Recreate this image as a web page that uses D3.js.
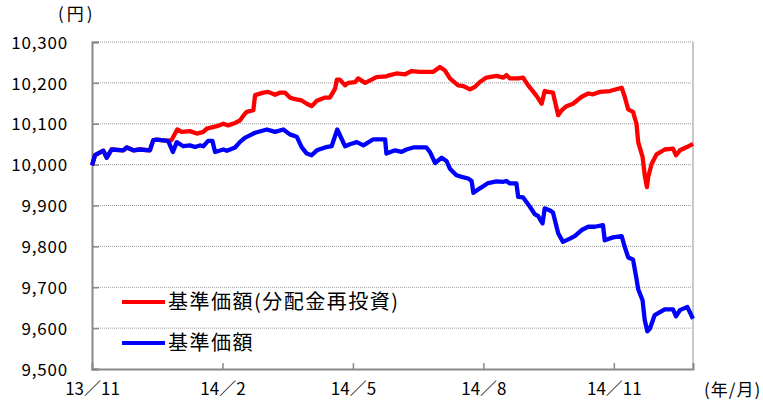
<!DOCTYPE html>
<html>
    <head>
        <title>基準価額の推移</title>
        <meta charset="utf-8"/>
        <script src="https://d3js.org/d3.v7.min.js"></script>
        <style>
            body { margin: 0; background: #fff; }
            text { font-family: "Noto Sans CJK JP", "DejaVu Sans", sans-serif; fill: #000; }
        </style>
    </head>
    <body onload='drawChart()'>
        <div id='output'></div>
        <script>
            //Month offsets from 13/11 (x) and values (円)
            var navMonths = [0.00, 0.07, 0.26, 0.34, 0.45, 0.72, 0.80, 0.95, 1.10, 1.33, 1.41, 1.49, 1.75, 1.86, 1.95,
                2.10, 2.25, 2.37, 2.48, 2.56, 2.67, 2.77, 2.83, 3.02, 3.10, 3.29, 3.40, 3.52, 3.56, 3.75, 4.02, 4.21,
                4.40, 4.55, 4.71, 4.82, 4.94, 5.05, 5.17, 5.36, 5.51, 5.64, 5.82, 5.93, 6.09, 6.24, 6.47, 6.74, 6.77,
                6.97, 7.12, 7.23, 7.39, 7.69, 7.77, 7.89, 8.04, 8.15, 8.23, 8.38, 8.50, 8.65, 8.73, 8.77, 8.92, 9.11,
                9.30, 9.46, 9.53, 9.61, 9.76, 9.80, 9.91, 10.07, 10.18, 10.26, 10.36, 10.41, 10.53, 10.60, 10.72,
                10.83, 10.99, 11.10, 11.26, 11.41, 11.56, 11.75, 11.79, 11.98, 12.18, 12.25, 12.33, 12.44, 12.52,
                12.56, 12.66, 12.71, 12.77, 12.83, 12.94, 13.17, 13.36, 13.43, 13.52, 13.69, 13.82];
            var navValues = [9998, 10023, 10034, 10017, 10037, 10035, 10042, 10035, 10037, 10035, 10060, 10061, 10058, 10031, 10055,
                10045, 10047, 10043, 10047, 10045, 10058, 10058, 10031, 10037, 10034, 10042, 10055, 10066, 10068, 10078, 10086, 10080,
                10086, 10074, 10068, 10043, 10027, 10023, 10035, 10042, 10045, 10086, 10045, 10050, 10055, 10047, 10062, 10062, 10027,
                10035, 10031, 10037, 10042, 10042, 10031, 10004, 10017, 10009, 9990, 9974, 9970, 9966, 9960, 9931, 9942, 9955,
                9959, 9958, 9960, 9954, 9954, 9921, 9920, 9897, 9879, 9874, 9856, 9893, 9888, 9883, 9832,
                9811, 9819, 9825, 9840, 9848, 9848, 9852, 9815, 9822, 9825, 9799, 9773, 9768, 9721,
                9695, 9668, 9620, 9592, 9599, 9632, 9646, 9646, 9629, 9644, 9652, 9623];

            var reinvMonths = [0.00, 0.07, 0.26, 0.34, 0.45, 0.72, 0.80, 0.95, 1.10, 1.33, 1.41, 1.49, 1.75, 1.83, 1.96,
                2.06, 2.25, 2.41, 2.56, 2.64, 2.87, 3.02, 3.13, 3.29, 3.40, 3.52, 3.56, 3.71, 3.75, 3.94, 4.05, 4.21,
                4.32, 4.44, 4.55, 4.67, 4.82, 4.94, 5.05, 5.17, 5.36, 5.47, 5.59, 5.63, 5.70, 5.82, 5.89, 6.05, 6.12,
                6.28, 6.43, 6.54, 6.77, 6.85, 7.00, 7.20, 7.35, 7.54, 7.85, 8.00, 8.11, 8.23, 8.42, 8.54, 8.69, 8.80,
                8.92, 9.07, 9.30, 9.46, 9.53, 9.61, 9.80, 9.91, 10.03, 10.15, 10.23, 10.34, 10.41, 10.49, 10.60,
                10.72, 10.80, 10.91, 11.06, 11.26, 11.41, 11.52, 11.68, 11.91, 12.18, 12.25, 12.33, 12.44, 12.52,
                12.56, 12.66, 12.71, 12.76, 12.79, 12.87, 12.98, 13.17, 13.36, 13.43, 13.52, 13.68, 13.82];
            var reinvValues = [9998, 10023, 10034, 10017, 10037, 10035, 10042, 10035, 10037, 10035, 10060, 10061, 10058, 10060, 10086,
                10080, 10082, 10076, 10080, 10088, 10094, 10100, 10096, 10102, 10108, 10125, 10129, 10133, 10170, 10176, 10178, 10171,
                10176, 10176, 10164, 10160, 10157, 10149, 10143, 10156, 10164, 10164, 10186, 10208, 10208, 10194, 10200, 10202, 10211,
                10200, 10208, 10214, 10216, 10219, 10223, 10221, 10229, 10227, 10227, 10239, 10231, 10211, 10194, 10192, 10184, 10190,
                10202, 10213, 10217, 10213, 10219, 10211, 10211, 10213, 10194, 10178, 10167, 10149, 10180, 10178, 10176,
                10121, 10133, 10143, 10149, 10166, 10174, 10172, 10178, 10180, 10188, 10166, 10135, 10129, 10100,
                10055, 10019, 9974, 9945, 9970, 10002, 10025, 10037, 10039, 10023, 10035, 10043, 10051];

            var yTicks = [9500, 9600, 9700, 9800, 9900, 10000, 10100, 10200, 10300];
            var xTickMonths = [0, 3, 6, 9, 12];
            var xTickLabels = ["13／11", "14／2", "14／5", "14／8", "14／11"];
            var seriesNames = ["基準価額(分配金再投資)", "基準価額"];

            function drawChart() {
                //Chart dimensions and margins
                var margin = {top: 42, right: 70, bottom: 32, left: 92},
                    width = 763 - margin.left - margin.right,
                    height = 401 - margin.top - margin.bottom;

                var svg = d3.select("#output")
                .append("svg")
                    .attr("width", 763)
                    .attr("height", 401)
                .append("g")
                    .attr("transform", "translate(" + margin.left + "," + margin.top + ")");

                var x = d3.scaleLinear().domain([0, 13.82]).range([0, width]);
                var y = d3.scaleLinear().domain([9500, 10300]).range([height, 0]);

                //Dotted gridlines
                svg.selectAll(".grid")
                    .data(yTicks.slice(1))
                    .enter()
                    .append("line")
                        .attr("x1", 0)
                        .attr("x2", width)
                        .attr("y1", function(d) { return y(d); })
                        .attr("y2", function(d) { return y(d); })
                        .style("stroke", "#999")
                        .style("stroke-width", 1)
                        .style("stroke-dasharray", "1,1");

                //Right border
                svg.append("line")
                    .attr("x1", width).attr("x2", width)
                    .attr("y1", 0).attr("y2", height)
                    .style("stroke", "#c8c8c8")
                    .style("stroke-width", 2);

                //Y axis
                var yAxis = svg.append("g")
                    .call(d3.axisLeft(y).tickValues(yTicks).tickSize(-7).tickPadding(24)
                        .tickFormat(d3.format(",")));
                yAxis.select(".domain").style("stroke", "#888").style("stroke-width", 2);
                yAxis.selectAll(".tick line").style("stroke", "#888").style("stroke-width", 1.5);
                yAxis.selectAll("text").style("font-size", "17px").style("letter-spacing", "0.8px").attr("dy", "0.36em");

                //X axis
                var xAxis = svg.append("g")
                    .attr("transform", "translate(0," + height + ")")
                    .call(d3.axisBottom(x).tickValues(xTickMonths).tickSize(-6).tickPadding(14)
                        .tickFormat(function(d, i) { return xTickLabels[i]; }));
                xAxis.select(".domain").style("stroke", "#888").style("stroke-width", 2);
                xAxis.selectAll(".tick line").style("stroke", "#888").style("stroke-width", 1.5);
                xAxis.selectAll(".tick").filter(function(d) { return d === 0; }).select("line").remove();
                xAxis.selectAll("text").style("font-size", "17px");

                var line = d3.line()
                    .x(function(d) { return x(d[0]); })
                    .y(function(d) { return y(d[1]); });

                var reinv = d3.zip(reinvMonths, reinvValues);
                var nav = d3.zip(navMonths, navValues);

                svg.append("path")
                    .datum(reinv)
                    .attr("d", line)
                    .style("fill", "none")
                    .style("stroke", "#ff0000")
                    .style("stroke-width", 4.3)
                    .style("stroke-linejoin", "round");

                svg.append("path")
                    .datum(nav)
                    .attr("d", line)
                    .style("fill", "none")
                    .style("stroke", "#0000ff")
                    .style("stroke-width", 4.3)
                    .style("stroke-linejoin", "round");

                //Legend
                var legendColors = ["#ff0000", "#0000ff"];
                var legend = svg.selectAll(".legend")
                    .data(seriesNames)
                    .enter()
                    .append("g")
                        .attr("transform", function(d, i) { return "translate(30," + (260 + i * 41) + ")"; });
                legend.append("line")
                    .attr("x1", 0).attr("x2", 43)
                    .style("stroke", function(d, i) { return legendColors[i]; })
                    .style("stroke-width", 4);
                legend.append("text")
                    .attr("x", 46)
                    .attr("dy", "0.36em")
                    .style("font-size", "20px")
                    .style("letter-spacing", "1.5px")
                    .text(function(d) { return d; });

                //Units
                svg.append("text")
                    .attr("x", -34)
                    .attr("y", -22)
                    .style("font-size", "17px")
                    .style("letter-spacing", "3px")
                    .text("(円)");

                svg.append("text")
                    .attr("x", width + 11)
                    .attr("y", height + 27)
                    .style("font-size", "17px")
                    .style("letter-spacing", "1px")
                    .text("(年/月)");
            }
        </script>
    </body>
</html>
